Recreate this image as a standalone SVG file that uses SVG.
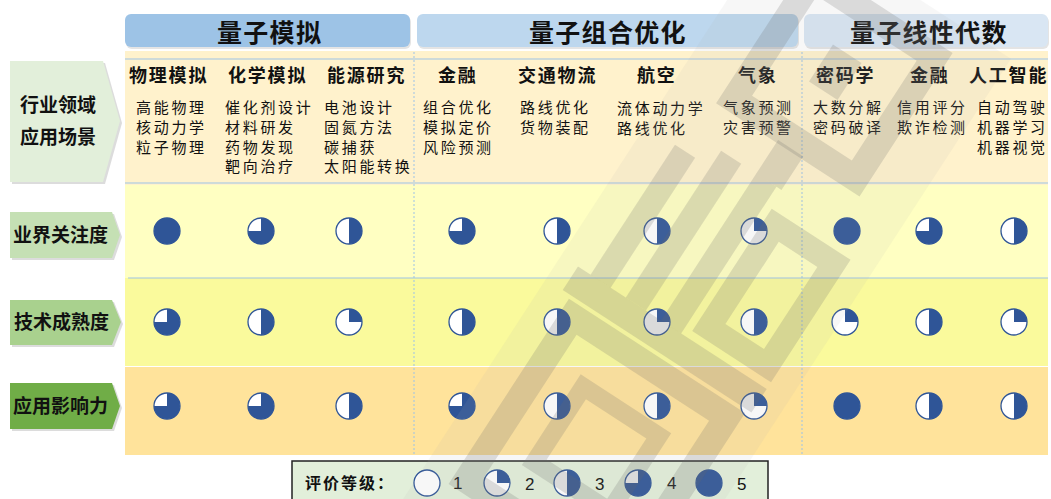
<svg xmlns="http://www.w3.org/2000/svg" xmlns:xlink="http://www.w3.org/1999/xlink" width="1051" height="499" viewBox="0 0 1051 499">
<style>
.t{font-family:"Noto Sans CJK SC","Noto Sans",sans-serif;fill:#111}
.title{font-size:25px;font-weight:bold;letter-spacing:1.3px}
.hd{font-size:18px;font-weight:bold;letter-spacing:1.8px}
.it{font-size:15px;letter-spacing:2.7px}
.lb{font-size:19px;font-weight:bold}
.lg{font-size:16px;font-weight:bold;letter-spacing:2px}
.num{font-family:"Liberation Sans",Arial,sans-serif;font-size:17px;fill:#111}
.ball{fill:#fff;stroke:#2F5597;stroke-width:1.3}
.dk{fill:#2F5597}
.sh{fill:#9a9a9a;opacity:.35}
.vline{stroke:#9DC3E6;stroke-width:1;stroke-dasharray:2 2}
.hline{stroke:#9DC3E6;stroke-width:1}
.wm{fill:none;stroke:#6b6b6b;stroke-opacity:.2}
.wmf{fill:#6b6b6b;fill-opacity:.2}
</style>
<defs>
<g id="b1"><circle class="ball" r="13"/></g>
<g id="b2"><circle class="ball" r="13"/><path class="dk" d="M0 0V-13A13 13 0 0 1 13 0Z"/></g>
<g id="b3"><circle class="ball" r="13"/><path class="dk" d="M0 -13A13 13 0 0 1 0 13Z"/></g>
<g id="b4"><circle class="ball" r="13"/><path class="dk" d="M0 0V-13A13 13 0 1 1 -13 0Z"/></g>
<g id="b5"><circle class="ball" r="13"/><circle class="dk" r="13"/></g>
</defs>
<rect width="1051" height="499" fill="#fff"/>

<g id="bands">
<rect x="125" y="51" width="923" height="134" fill="#FFF2CC"/>
<line class="hline" x1="125" y1="59" x2="1048" y2="59"/>
<line class="hline" x1="125" y1="183" x2="1048" y2="183"/>
<rect x="125" y="185" width="923" height="93" fill="#FFFFC2"/>
<rect x="125" y="278" width="923" height="88" fill="#FAFA9C"/>
<rect x="125" y="366" width="923" height="89" fill="#FFE39B"/>
<line class="hline" x1="128" y1="278" x2="1048" y2="278"/>
<line x1="125" y1="366.5" x2="1048" y2="366.5" stroke="#fff" stroke-width="1"/>
<line class="vline" x1="414" y1="52" x2="414" y2="455"/>
<line class="vline" x1="802" y1="52" x2="802" y2="455"/>
</g>

<g id="header-sim">
<rect x="126" y="16" width="285" height="33" rx="6" fill="#c9c9c9" opacity=".5"/>
<rect x="125" y="14" width="285" height="33" rx="6" fill="#9DC3E6"/>
<text class="t title" x="217" y="42">量子模拟</text>
</g>
<g id="header-opt">
<rect x="418" y="16" width="381" height="33" rx="6" fill="#c9c9c9" opacity=".5"/>
<rect x="417" y="14" width="381" height="33" rx="6" fill="#BDD7EE"/>
<text class="t title" x="529" y="42">量子组合优化</text>
</g>
<g id="header-lin">
<rect x="805" y="16" width="244" height="33" rx="6" fill="#c9c9c9" opacity=".5"/>
<rect x="804" y="14" width="244" height="33" rx="6" fill="#D9E6F3"/>
<text class="t title" x="850" y="42">量子线性代数</text>
</g>

<g id="label-scene">
<polygon class="sh" points="12,63 105,63 122,123 105,184 12,184"/>
<polygon points="10,61 103,61 120,121 103,182 10,182" fill="#E2EFDA"/>
<text class="t lb" x="20" y="112">行业领域</text>
<text class="t lb" x="20" y="144">应用场景</text>
</g>
<g id="label-attention">
<polygon class="sh" points="12,214 114,214 122,237 114,260 12,260"/>
<polygon points="10,212 112,212 120,235 112,258 10,258" fill="#C5E0B4"/>
<text class="t lb" x="13" y="242">业界关注度</text>
</g>
<g id="label-maturity">
<polygon class="sh" points="12,302 114,302 123,324 114,347 12,347"/>
<polygon points="10,300 112,300 121,322 112,345 10,345" fill="#A9D18E"/>
<text class="t lb" x="14" y="329">技术成熟度</text>
</g>
<g id="label-impact">
<polygon class="sh" points="12,385 114,385 122,408 114,431 12,431"/>
<polygon points="10,383 112,383 120,406 112,429 10,429" fill="#70AD47"/>
<text class="t lb" x="13" y="413">应用影响力</text>
</g>

<g id="col-physics">
<text class="t hd" x="129" y="82">物理模拟</text>
<text class="t it" x="136" y="113">高能物理</text>
<text class="t it" x="136" y="133">核动力学</text>
<text class="t it" x="136" y="153">粒子物理</text>
</g>
<g id="col-chem">
<text class="t hd" x="228" y="82">化学模拟</text>
<text class="t it" x="225" y="113">催化剂设计</text>
<text class="t it" x="225" y="133">材料研发</text>
<text class="t it" x="225" y="153">药物发现</text>
<text class="t it" x="225" y="172">靶向治疗</text>
</g>
<g id="col-energy">
<text class="t hd" x="327" y="82">能源研究</text>
<text class="t it" x="324" y="113">电池设计</text>
<text class="t it" x="324" y="133">固氮方法</text>
<text class="t it" x="324" y="153">碳捕获</text>
<text class="t it" x="324" y="172">太阳能转换</text>
</g>
<g id="col-finance1">
<text class="t hd" x="438" y="82">金融</text>
<text class="t it" x="423" y="113">组合优化</text>
<text class="t it" x="423" y="133">模拟定价</text>
<text class="t it" x="423" y="153">风险预测</text>
</g>
<g id="col-logistics">
<text class="t hd" x="518" y="82">交通物流</text>
<text class="t it" x="520" y="113">路线优化</text>
<text class="t it" x="520" y="133">货物装配</text>
</g>
<g id="col-aviation">
<text class="t hd" x="637" y="82">航空</text>
<text class="t it" x="617" y="114">流体动力学</text>
<text class="t it" x="617" y="134">路线优化</text>
</g>
<g id="col-weather">
<text class="t hd" x="738" y="82">气象</text>
<text class="t it" x="723" y="113">气象预测</text>
<text class="t it" x="723" y="133">灾害预警</text>
</g>
<g id="col-crypto">
<text class="t hd" x="816" y="82">密码学</text>
<text class="t it" x="813" y="113">大数分解</text>
<text class="t it" x="813" y="133">密码破译</text>
</g>
<g id="col-finance2">
<text class="t hd" x="910" y="82">金融</text>
<text class="t it" x="897" y="113">信用评分</text>
<text class="t it" x="897" y="133">欺诈检测</text>
</g>
<g id="col-ai">
<text class="t hd" x="969" y="82">人工智能</text>
<text class="t it" x="977" y="113">自动驾驶</text>
<text class="t it" x="977" y="133">机器学习</text>
<text class="t it" x="977" y="153">机器视觉</text>
</g>

<g id="ratings">
<use xlink:href="#b5" x="167" y="231"/>
<use xlink:href="#b4" x="261" y="231"/>
<use xlink:href="#b3" x="349" y="231"/>
<use xlink:href="#b4" x="462" y="231"/>
<use xlink:href="#b3" x="557" y="231"/>
<use xlink:href="#b3" x="657" y="231"/>
<use xlink:href="#b2" x="754" y="231"/>
<use xlink:href="#b5" x="847" y="231"/>
<use xlink:href="#b4" x="929" y="231"/>
<use xlink:href="#b3" x="1014" y="231"/>

<use xlink:href="#b4" x="167" y="322"/>
<use xlink:href="#b3" x="261" y="322"/>
<use xlink:href="#b2" x="349" y="322"/>
<use xlink:href="#b3" x="462" y="322"/>
<use xlink:href="#b3" x="557" y="322"/>
<use xlink:href="#b2" x="657" y="322"/>
<use xlink:href="#b3" x="754" y="322"/>
<use xlink:href="#b2" x="845" y="322"/>
<use xlink:href="#b3" x="929" y="322"/>
<use xlink:href="#b2" x="1014" y="322"/>

<use xlink:href="#b4" x="167" y="406"/>
<use xlink:href="#b4" x="261" y="406"/>
<use xlink:href="#b3" x="349" y="406"/>
<use xlink:href="#b4" x="462" y="406"/>
<use xlink:href="#b3" x="557" y="406"/>
<use xlink:href="#b3" x="657" y="406"/>
<use xlink:href="#b2" x="754" y="406"/>
<use xlink:href="#b5" x="847" y="406"/>
<use xlink:href="#b3" x="929" y="406"/>
<use xlink:href="#b3" x="1014" y="406"/>
</g>

<g id="legend">
<rect x="292" y="461" width="476" height="40" fill="#E2EFDA" stroke="#222" stroke-width="1.5"/>
<text class="t lg" x="305" y="489">评价等级：</text>
<use xlink:href="#b1" x="427" y="483"/>
<text class="num" x="453" y="489">1</text>
<use xlink:href="#b2" x="497" y="483"/>
<text class="num" x="525" y="490">2</text>
<use xlink:href="#b3" x="567" y="483"/>
<text class="num" x="595" y="490">3</text>
<use xlink:href="#b4" x="638" y="483"/>
<text class="num" x="667" y="489">4</text>
<use xlink:href="#b5" x="709" y="483"/>
<text class="num" x="737" y="490">5</text>
</g>

<g id="watermark" transform="translate(718,262) rotate(33)">
<rect x="-135" y="-330" width="270" height="700" fill="#b5b5b5" fill-opacity=".1"/>
<rect class="wm" x="-75" y="-290" width="145" height="145" stroke-width="26"/>
<rect class="wmf" x="-22" y="-245" width="34" height="44"/>
<rect class="wmf" x="-16" y="-135" width="30" height="40"/>
<rect class="wmf" x="-100" y="-75" width="24" height="155"/>
<rect class="wmf" x="-58" y="-95" width="24" height="175"/>
<rect class="wmf" x="-16" y="-95" width="24" height="175"/>
<rect class="wm" x="28" y="-62" width="70" height="122" stroke-width="24"/>
<rect class="wmf" x="-115" y="80" width="225" height="28"/>
<rect class="wm" x="-92" y="125" width="184" height="195" stroke-width="26"/>
<rect class="wm" x="-45" y="178" width="90" height="90" stroke-width="18"/>
</g>
</svg>
